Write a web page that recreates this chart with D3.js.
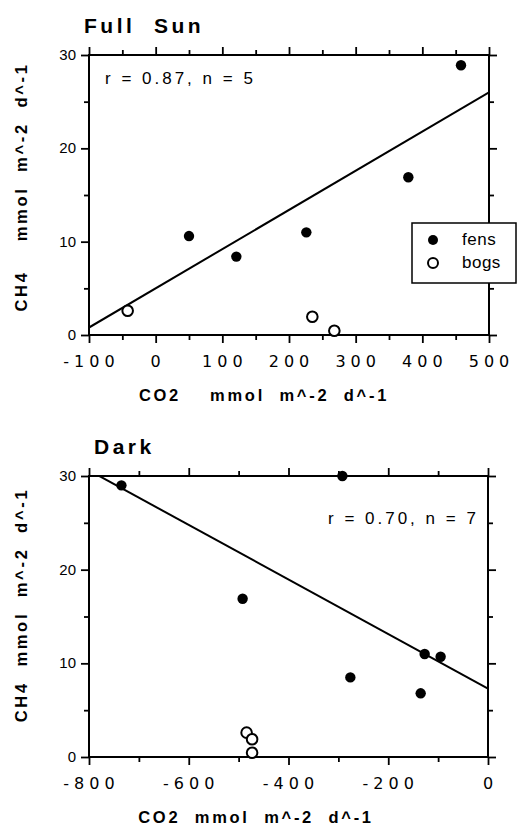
<!DOCTYPE html>
<html>
<head>
<meta charset="utf-8">
<script src="https://cdn.jsdelivr.net/npm/d3@7"></script>
<style>
  body { margin: 0; background: #fff; }
  svg text { font-family: "Liberation Sans", Arial, sans-serif; fill: #000; white-space: pre; }
  .panel-title { font-weight: bold; font-size: 21px; letter-spacing: 3.5px; }
  .axis-title { font-weight: bold; font-size: 16.5px; letter-spacing: 2.7px; }
  .x-tick-label { font-family: "DejaVu Sans", sans-serif; font-size: 16px; letter-spacing: 5px; }
  .y-tick-label { font-size: 15px; }
  .stat { font-size: 17px; letter-spacing: 3px; }
  .legend-label { font-size: 17px; letter-spacing: 0.5px; }
</style>
</head>
<body>
<div id="chart"></div>
<script>
// CO2 vs CH4 flux, full sun panel
const sunFens = [
  { co2: 50, ch4: 10.6 },
  { co2: 121, ch4: 8.4 },
  { co2: 226, ch4: 11.0 },
  { co2: 379, ch4: 16.9 },
  { co2: 458, ch4: 28.9 }
];
const sunBogs = [
  { co2: -42, ch4: 2.6 },
  { co2: 235, ch4: 1.95 },
  { co2: 268, ch4: 0.45 }
];
const sunFit = [
  { co2: -100, ch4: 0.8 },
  { co2: 500, ch4: 26.0 }
];
const sunXTicks = [-100, 0, 100, 200, 300, 400, 500];

// dark panel
const darkFens = [
  { co2: -735, ch4: 29.0 },
  { co2: -292, ch4: 30.0 },
  { co2: -492, ch4: 16.9 },
  { co2: -127, ch4: 11.0 },
  { co2: -95, ch4: 10.7 },
  { co2: -276, ch4: 8.5 },
  { co2: -135, ch4: 6.8 }
];
const darkBogs = [
  { co2: -484, ch4: 2.6 },
  { co2: -473, ch4: 1.9 },
  { co2: -473, ch4: 0.45 }
];
const darkFit = [
  { co2: -800, ch4: 30.6 },
  { co2: 0, ch4: 7.3 }
];
const darkXTicks = [-800, -600, -400, -200, 0];

const yTicks = [0, 10, 20, 30];
const legendItems = ["fens", "bogs"];

const width = 517, height = 825;

const svg = d3.select("#chart")
  .append("svg")
  .attr("width", width)
  .attr("height", height);

// minor ticks sit halfway between the labelled ones
function midpoints(arr) {
  let out = [];
  for (let i = 0; i < arr.length - 1; i++) out.push((arr[i] + arr[i + 1]) / 2);
  return out;
}

function drawPanel(cfg) {
  const x = d3.scaleLinear().domain(cfg.xDomain).range([cfg.left, cfg.right]);
  const y = d3.scaleLinear().domain([0, 30]).range([cfg.bottom, cfg.top]);
  const g = svg.append("g");
  const clipId = "clip-" + cfg.id;

  g.append("clipPath").attr("id", clipId)
    .append("rect")
    .attr("x", cfg.left).attr("y", cfg.top)
    .attr("width", cfg.right - cfg.left).attr("height", cfg.bottom - cfg.top);

  const xMinor = midpoints(cfg.xTicks);
  const yMinor = midpoints(yTicks);

  // tick marks on all four sides, pointing outward
  const tickAxes = [
    [d3.axisBottom(x).tickValues(cfg.xTicks).tickSize(8), `translate(0,${cfg.bottom})`],
    [d3.axisBottom(x).tickValues(xMinor).tickSize(5), `translate(0,${cfg.bottom})`],
    [d3.axisTop(x).tickValues(cfg.xTicks).tickSize(8), `translate(0,${cfg.top})`],
    [d3.axisTop(x).tickValues(xMinor).tickSize(5), `translate(0,${cfg.top})`],
    [d3.axisLeft(y).tickValues(yTicks).tickSize(8), `translate(${cfg.left},0)`],
    [d3.axisLeft(y).tickValues(yMinor).tickSize(5), `translate(${cfg.left},0)`],
    [d3.axisRight(y).tickValues(yTicks).tickSize(8), `translate(${cfg.right},0)`],
    [d3.axisRight(y).tickValues(yMinor).tickSize(5), `translate(${cfg.right},0)`]
  ];
  tickAxes.forEach(([axis, tr]) => {
    g.append("g")
      .attr("transform", tr)
      .call(axis.tickFormat(""))
      .call((a) => a.select(".domain").remove())
      .call((a) => a.selectAll("line").attr("stroke", "#000").attr("stroke-width", 1.8));
  });

  // frame
  g.append("rect")
    .attr("x", cfg.left).attr("y", cfg.top)
    .attr("width", cfg.right - cfg.left).attr("height", cfg.bottom - cfg.top)
    .attr("fill", "none").attr("stroke", "#000").attr("stroke-width", 2);

  // tick labels
  g.selectAll(".x-tick-label")
    .data(cfg.xTicks)
    .join("text")
    .attr("class", "x-tick-label")
    .attr("x", (d) => x(d) + 2.5)
    .attr("y", cfg.bottom + 32)
    .attr("text-anchor", "middle")
    .text((d) => d);

  g.selectAll(".y-tick-label")
    .data(yTicks)
    .join("text")
    .attr("class", "y-tick-label")
    .attr("x", cfg.left - 13)
    .attr("y", (d) => y(d) + 5)
    .attr("text-anchor", "end")
    .text((d) => d);

  // regression line
  g.append("path")
    .datum(cfg.fit)
    .attr("clip-path", `url(#${clipId})`)
    .attr("fill", "none")
    .attr("stroke", "#000")
    .attr("stroke-width", 2)
    .attr("d", d3.line().x((d) => x(d.co2)).y((d) => y(d.ch4)));

  // points
  g.selectAll(".fen")
    .data(cfg.fens)
    .join("circle")
    .attr("class", "fen")
    .attr("cx", (d) => x(d.co2))
    .attr("cy", (d) => y(d.ch4))
    .attr("r", 5.2)
    .attr("fill", "#000");

  g.selectAll(".bog")
    .data(cfg.bogs)
    .join("circle")
    .attr("class", "bog")
    .attr("cx", (d) => x(d.co2))
    .attr("cy", (d) => y(d.ch4))
    .attr("r", 5.3)
    .attr("fill", "#fff")
    .attr("stroke", "#000")
    .attr("stroke-width", 2);

  // titles
  g.append("text")
    .attr("class", "panel-title")
    .attr("x", cfg.titleX)
    .attr("y", cfg.top - 22)
    .text(cfg.title);

  g.append("text")
    .attr("class", "stat")
    .attr("x", cfg.statX)
    .attr("y", cfg.statY)
    .text(cfg.stat);

  g.append("text")
    .attr("class", "axis-title")
    .attr("x", cfg.xTitleX)
    .attr("y", cfg.bottom + 66)
    .attr("text-anchor", "middle")
    .text(cfg.xTitle);

  g.append("text")
    .attr("class", "axis-title")
    .attr("transform", `translate(27,${cfg.yTitleY}) rotate(-90)`)
    .attr("text-anchor", "middle")
    .text(cfg.yTitle);

  return { x, y, g };
}

drawPanel({
  id: "sun", title: "Full  Sun", titleX: 84,
  xDomain: [-100, 500], xTicks: sunXTicks,
  left: 89, right: 489, top: 55, bottom: 335,
  fens: sunFens, bogs: sunBogs, fit: sunFit,
  stat: "r = 0.87, n = 5", statX: 105, statY: 84,
  xTitle: "CO2    mmol  m^-2  d^-1", xTitleX: 264,
  yTitle: "CH4    mmol  m^-2  d^-1", yTitleY: 187
});

drawPanel({
  id: "dark", title: "Dark", titleX: 94,
  xDomain: [-800, 0], xTicks: darkXTicks,
  left: 89, right: 488, top: 476, bottom: 757,
  fens: darkFens, bogs: darkBogs, fit: darkFit,
  stat: "r = 0.70, n = 7", statX: 328, statY: 524,
  xTitle: "CO2  mmol  m^-2  d^-1", xTitleX: 256,
  yTitle: "CH4  mmol  m^-2  d^-1", yTitleY: 605
});

// legend box for the top panel
const legend = svg.append("g").attr("transform", "translate(412,223)");
legend.append("rect")
  .attr("width", 104).attr("height", 60)
  .attr("fill", "#fff").attr("stroke", "#000").attr("stroke-width", 1.5);
legend.selectAll("circle")
  .data(legendItems)
  .join("circle")
  .attr("cx", 21)
  .attr("cy", (d, i) => 17 + i * 23)
  .attr("r", 5)
  .attr("fill", (d) => (d === "fens" ? "#000" : "#fff"))
  .attr("stroke", "#000")
  .attr("stroke-width", (d) => (d === "fens" ? 0 : 2));
legend.selectAll("text")
  .data(legendItems)
  .join("text")
  .attr("class", "legend-label")
  .attr("x", 50)
  .attr("y", (d, i) => 22 + i * 23)
  .text((d) => d);
</script>
</body>
</html>
